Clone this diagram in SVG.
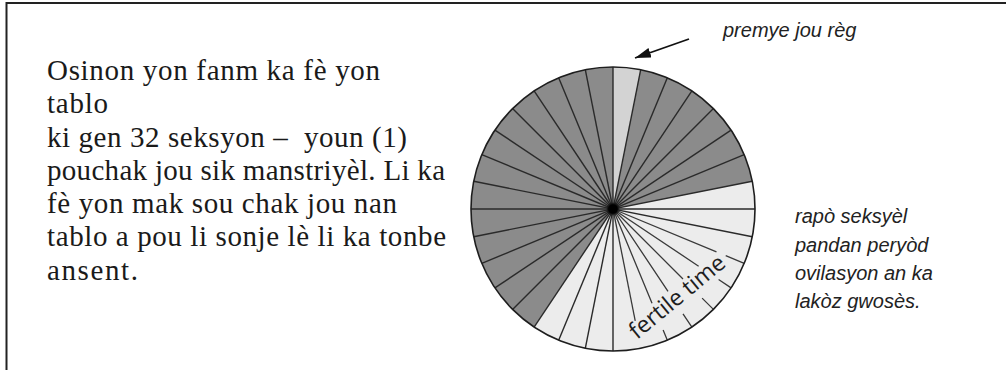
<svg xmlns="http://www.w3.org/2000/svg" width="1006" height="370" viewBox="0 0 1006 370">
<style>
.serif{font-family:"Liberation Serif","Times New Roman",serif;font-size:29px;fill:#1a1a1a}
.note{font-family:"Liberation Sans",Arial,sans-serif;font-size:20px;font-style:italic;fill:#222}
.spoke{stroke:#2a2a2a;stroke-width:1.4;fill:none}
.fspoke{stroke:#3a3a3a;stroke-width:1.3;fill:none}
</style>
<defs>
<marker id="ah" markerUnits="userSpaceOnUse" markerWidth="18" markerHeight="12" refX="16" refY="5" orient="auto">
<path d="M0,0 L16,5 L0,10 Z" fill="#111"/>
</marker>
<radialGradient id="hub">
<stop offset="0" stop-color="#000"/>
<stop offset="0.6" stop-color="#000"/>
<stop offset="1" stop-color="#000" stop-opacity="0"/>
</radialGradient>
</defs>
<rect width="1006" height="370" fill="#fff"/>
<path d="M6.5,370 V3 H1006" fill="none" stroke="#222" stroke-width="2"/>

<g id="description">
<text class="serif" x="47" y="80" textLength="333">Osinon yon fanm ka fè yon</text>
<text class="serif" x="47" y="113.25" textLength="61">tablo</text>
<text class="serif" x="47" y="146.5" textLength="360" xml:space="preserve">ki gen 32 seksyon –  youn (1)</text>
<text class="serif" x="47" y="179.75" textLength="398">pouchak jou sik manstriyèl. Li ka</text>
<text class="serif" x="47" y="213" textLength="350">fè yon mak sou chak jou nan</text>
<text class="serif" x="47" y="246.25" textLength="399">tablo a pou li sonje lè li ka tonbe</text>
<text class="serif" x="47" y="279.5" textLength="91">ansent.</text>
</g>

<g id="wheel">
<circle cx="613" cy="209" r="142" fill="#8b8b8b"/>
<path d="M613,209 L613,67 A142,142 0 0 1 640.70,69.73 Z" fill="#d3d3d3"/>
<path d="M613,209 L752.27,181.30 A142,142 0 0 1 534.11,327.07 Z" fill="#ececec"/>
<g class="spoke">
<path d="M613,67 L613,351"/>
<path d="M640.70,69.73 L585.30,348.27"/>
<path d="M667.34,77.81 L558.66,340.19"/>
<path d="M691.89,90.93 L534.11,327.07"/>
<path d="M713.41,108.59 L512.59,309.41"/>
<path d="M731.07,130.11 L494.93,287.89"/>
<path d="M744.19,154.66 L481.81,263.34"/>
<path d="M752.27,181.30 L473.73,236.70"/>
<path d="M755,209 L471,209"/>
<path d="M752.27,236.70 L473.73,181.30"/>
<path d="M613,209 L481.81,154.66"/>
<path d="M613,209 L494.93,130.11"/>
<path d="M613,209 L512.59,108.59"/>
<path d="M613,209 L534.11,90.93"/>
<path d="M613,209 L558.66,77.81"/>
<path d="M613,209 L585.30,69.73"/>
</g>
<g class="fspoke">
<path d="M613,209 L716.47,251.86 M725.71,255.69 L744.19,263.34"/>
<path d="M613,209 L698.64,266.22 M718.60,279.56 L731.07,287.89"/>
<path d="M613,209 L683.0,279.0 M702.10,298.10 L713.41,309.41"/>
<path d="M613,209 L668.0,291.31 M683.0,313.77 L691.89,327.07"/>
<path d="M613,209 L652.03,303.24 M663.13,330.03 L667.34,340.19"/>
<path d="M613,209 L635.24,320.81"/>
</g>
<circle cx="613" cy="209" r="142" fill="none" stroke="#1e1e1e" stroke-width="1.6"/>
<circle cx="613" cy="209" r="7" fill="url(#hub)"/>
<text x="0" y="0" transform="translate(637,340) rotate(-39.6)" font-family="'Open Sans',sans-serif" font-size="23" fill="#1e1e1e">fertile time</text>
</g>

<g id="first-day-label">
<text class="note" x="723" y="37">premye jou règ</text>
</g>

<g id="fertile-note">
<text class="note" x="795" y="223.3">rapò seksyèl</text>
<text class="note" x="795" y="251.6">pandan peryòd</text>
<text class="note" x="795" y="279.9">ovilasyon an ka</text>
<text class="note" x="795" y="308.2">lakòz gwosès.</text>
</g>

<g id="connectors">
<path d="M689,39 L635,58" fill="none" stroke="#111" stroke-width="1.8" marker-end="url(#ah)"/>
</g>
</svg>
